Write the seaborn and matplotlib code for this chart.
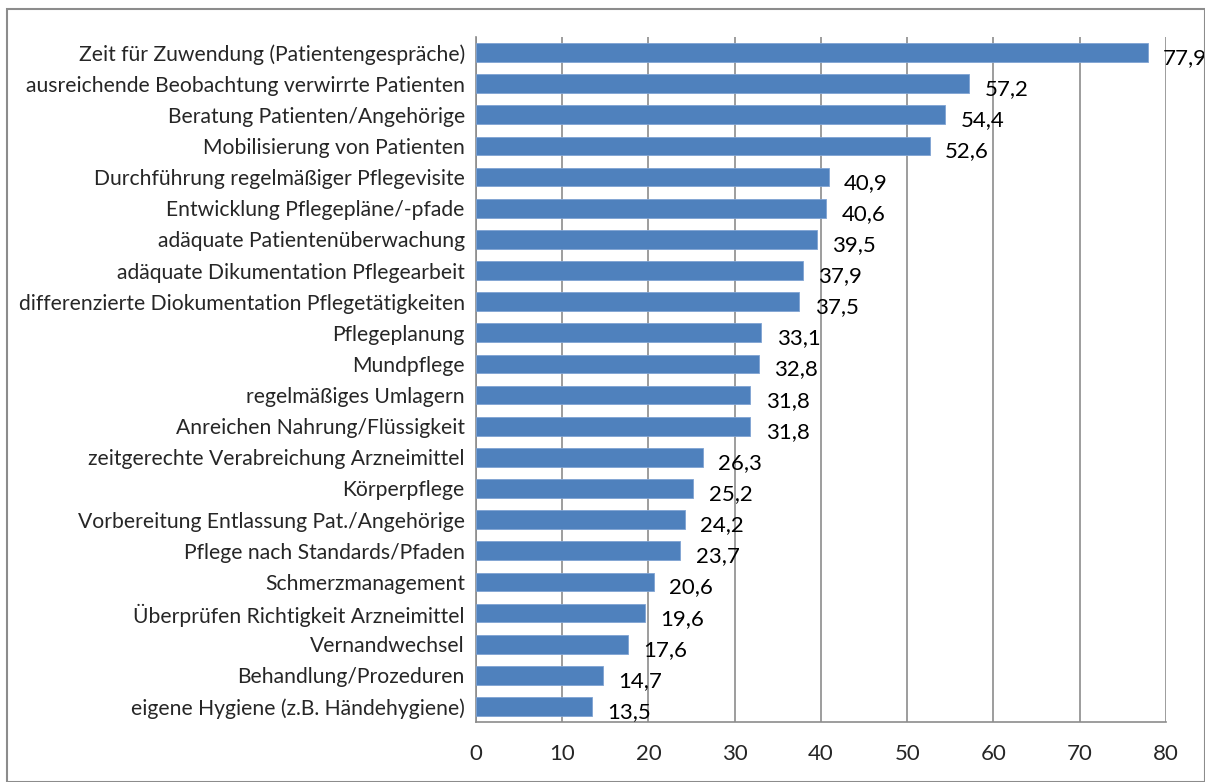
import matplotlib
matplotlib.use("Agg")
import matplotlib.pyplot as plt
import matplotlib.patches as mpatches
import seaborn as sns
import pandas as pd

categories = [
    "Zeit für Zuwendung (Patientengespräche)",
    "ausreichende Beobachtung verwirrte Patienten",
    "Beratung Patienten/Angehörige",
    "Mobilisierung von Patienten",
    "Durchführung regelmäßiger Pflegevisite",
    "Entwicklung Pflegepläne/-pfade",
    "adäquate Patientenüberwachung",
    "adäquate Dikumentation Pflegearbeit",
    "differenzierte Diokumentation Pflegetätigkeiten",
    "Pflegeplanung",
    "Mundpflege",
    "regelmäßiges Umlagern",
    "Anreichen Nahrung/Flüssigkeit",
    "zeitgerechte Verabreichung Arzneimittel",
    "Körperpflege",
    "Vorbereitung Entlassung Pat./Angehörige",
    "Pflege nach Standards/Pfaden",
    "Schmerzmanagement",
    "Überprüfen Richtigkeit Arzneimittel",
    "Vernandwechsel",
    "Behandlung/Prozeduren",
    "eigene Hygiene (z.B. Händehygiene)",
]
values = [77.9, 57.2, 54.4, 52.6, 40.9, 40.6, 39.5, 37.9, 37.5, 33.1, 32.8,
          31.8, 31.8, 26.3, 25.2, 24.2, 23.7, 20.6, 19.6, 17.6, 14.7, 13.5]
x_ticks = [0, 10, 20, 30, 40, 50, 60, 70, 80]

df = pd.DataFrame({"Kategorie": categories, "Wert": values})

sns.set_style("white")
plt.rcParams["font.family"] = ["Lato", "DejaVu Sans"]

fig = plt.figure(figsize=(12.05, 7.82), dpi=100)
ax = fig.add_axes([0.395, 0.0767, 0.5726, 0.876])

sns.barplot(data=df, x="Wert", y="Kategorie", color="#4F81BD", width=0.6,
            saturation=1, edgecolor="#7FA3D3", linewidth=0.6, ax=ax, zorder=3)

for i, v in enumerate(values):
    ax.annotate(f"{v:.1f}".replace(".", ","), xy=(v, i), xytext=(11, -4),
                textcoords="offset points", va="center", ha="left",
                fontsize=16, color="black", zorder=4)

ax.set_xlim(0, 80)
ax.set_ylim(len(categories) - 0.5, -0.5)
ax.set_xticks(x_ticks)
ax.set_xticklabels([str(t) for t in x_ticks], fontsize=16)
ax.set_yticks(range(len(categories)))
ax.set_yticklabels(categories, fontsize=15.2)
ax.set_xlabel("")
ax.set_ylabel("")
ax.xaxis.grid(True, color="#8C8C8C", linewidth=1.2, zorder=0)
ax.yaxis.grid(False)

for s in ["top", "right"]:
    ax.spines[s].set_visible(False)
for s in ["left", "bottom"]:
    ax.spines[s].set_color("#8C8C8C")
    ax.spines[s].set_linewidth(1.2)

# category boundary ticks on y axis, major ticks on x axis
ax.set_yticks([i + 0.5 for i in range(-1, len(categories))], minor=True)
ax.tick_params(axis="y", which="major", length=0, pad=8)
ax.tick_params(axis="y", which="minor", length=5, color="#8C8C8C", width=1.2)
ax.tick_params(axis="x", which="major", length=5, color="#8C8C8C", width=1.2, pad=11)

fig.patches.append(mpatches.Rectangle((0.006, 0.0), 0.994, 0.989, transform=fig.transFigure,
                                      fill=False, edgecolor="#8C8C8C", linewidth=1.5))

fig.savefig("out.png", dpi=100)
